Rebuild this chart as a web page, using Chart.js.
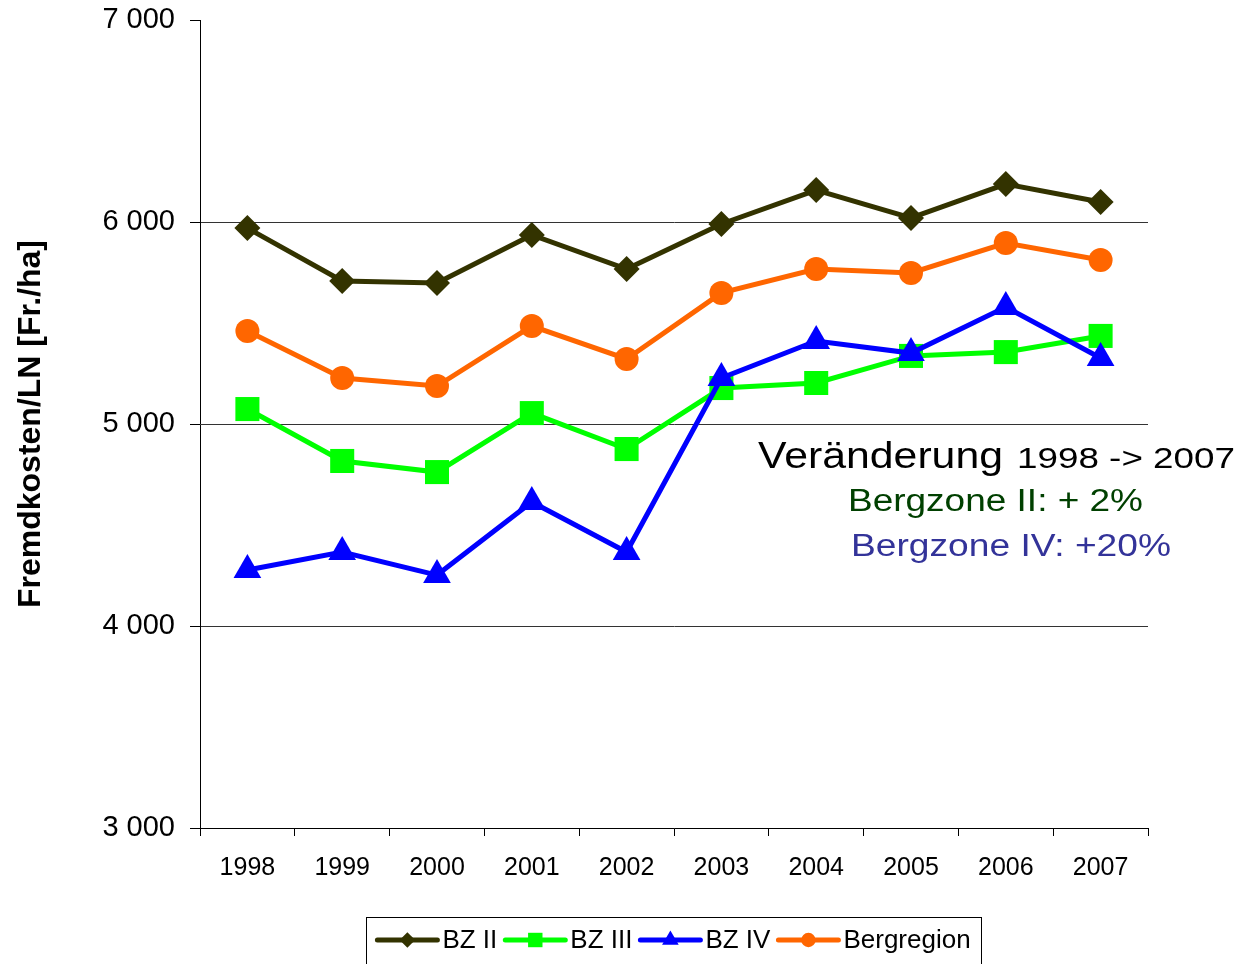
<!DOCTYPE html>
<html>
<head>
<meta charset="utf-8">
<title>Fremdkosten/LN</title>
<script src="https://cdn.jsdelivr.net/npm/chart.js@4/dist/chart.umd.min.js"></script>
<style>
  html, body { margin: 0; padding: 0; background: #fff; }
  #wrap { width: 1238px; height: 964px; position: relative; }
</style>
</head>
<body>
<div id="wrap"><canvas id="chart"></canvas></div>
<script>
const years = ['1998', '1999', '2000', '2001', '2002', '2003', '2004', '2005', '2006', '2007'];
const bzII = [5970, 5708, 5698, 5936, 5767, 5990, 6158, 6020, 6188, 6099];
const bzIII = [5074, 4817, 4762, 5054, 4876, 5178, 5203, 5337, 5356, 5436];
const bzIV = [4277, 4366, 4252, 4614, 4366, 5228, 5411, 5351, 5579, 5327];
const bergregion = [5460, 5228, 5188, 5485, 5322, 5649, 5767, 5748, 5896, 5812];
const seriesNames = ['BZ II', 'BZ III', 'BZ IV', 'Bergregion'];
const yMin = 3000, yMax = 7000, yStep = 1000;
const yTitle = 'Fremdkosten/LN [Fr./ha]';
const noteTexts = ['Veränderung', '1998 -> 2007', 'Bergzone II: + 2%', 'Bergzone IV: +20%'];

const FONT = '"Liberation Sans", Arial, Helvetica, sans-serif';

function fmt(v) {
  return String(v).replace(/\B(?=(\d{3})+(?!\d))/g, ' ');
}

// text box on the right, stretched a bit like the original
const notePlugin = {
  id: 'note',
  afterDatasetsDraw(chart) {
    const ctx = chart.ctx;
    const parts = [
      { t: noteTexts[0], size: 37, color: '#000000', x: 758, y: 468, w: 245 },
      { t: noteTexts[1], size: 30, color: '#000000', x: 1017, y: 468, w: 218 },
      { t: noteTexts[2], size: 31, color: '#004000', x: 848, y: 511, w: 295 },
      { t: noteTexts[3], size: 31, color: '#333399', x: 851, y: 556, w: 320 }
    ];
    ctx.save();
    ctx.textBaseline = 'alphabetic';
    ctx.textAlign = 'left';
    parts.forEach(p => {
      ctx.font = p.size + 'px ' + FONT;
      const mw = ctx.measureText(p.t).width;
      ctx.save();
      ctx.translate(p.x, p.y);
      ctx.scale(p.w / mw, 1);
      ctx.fillStyle = p.color;
      ctx.fillText(p.t, 0, 0);
      ctx.restore();
    });
    ctx.restore();
  }
};

// legend box under the axis, line + marker per series
const legendPlugin = {
  id: 'bottomLegend',
  afterDraw(chart) {
    const ctx = chart.ctx;
    const area = chart.chartArea;
    ctx.save();
    ctx.font = '26px ' + FONT;
    const lineLen = 60, gapText = 5, gapItem = 8, padX = 11;
    const items = chart.data.datasets.map(ds => ({ ds, w: ctx.measureText(ds.label).width }));
    const total = items.reduce((s, it) => s + lineLen + gapText + it.w, 0) + gapItem * (items.length - 1);
    let x = (area.left + area.right) / 2 - total / 2;
    const top = 917, cy = 940;
    ctx.strokeStyle = '#000';
    ctx.lineWidth = 1;
    ctx.strokeRect(Math.round(x - padX) + 0.5, top + 0.5, Math.round(total + 2 * padX), 80);
    items.forEach(it => {
      const ds = it.ds;
      ctx.strokeStyle = ds.borderColor;
      ctx.fillStyle = ds.borderColor;
      ctx.lineWidth = 5;
      ctx.lineCap = 'round';
      ctx.beginPath();
      ctx.moveTo(x, cy);
      ctx.lineTo(x + lineLen, cy);
      ctx.stroke();
      Chart.helpers.drawPoint(ctx, {
        pointStyle: ds.pointStyle,
        radius: ds.pointRadius * 0.6,
        rotation: 0,
        borderWidth: 0
      }, x + lineLen / 2, cy);
      ctx.fillStyle = '#000';
      ctx.textBaseline = 'middle';
      ctx.textAlign = 'left';
      ctx.fillText(ds.label, x + lineLen + gapText, cy + 1);
      x += lineLen + gapText + it.w + gapItem;
    });
    ctx.restore();
  }
};

function series(label, data, color, style, radius, order) {
  return {
    label: label,
    data: data,
    borderColor: color,
    backgroundColor: color,
    borderWidth: 5,
    pointStyle: style,
    pointRadius: radius,
    pointHoverRadius: radius,
    pointBackgroundColor: color,
    pointBorderWidth: 0,
    tension: 0,
    order: order
  };
}

new Chart(document.getElementById('chart'), {
  type: 'line',
  data: {
    labels: years,
    datasets: [
      series(seriesNames[0], bzII, '#333300', 'rectRot', 13, 4),
      series(seriesNames[1], bzIII, '#00ff00', 'rect', 17, 3),
      series(seriesNames[2], bzIV, '#0000ff', 'triangle', 16, 2),
      series(seriesNames[3], bergregion, '#ff6600', 'circle', 12, 1)
    ]
  },
  options: {
    responsive: true,
    maintainAspectRatio: false,
    animation: false,
    layout: { padding: { left: 0, right: 90, top: 20, bottom: 64 } },
    plugins: {
      legend: { display: false },
      tooltip: { enabled: false }
    },
    scales: {
      x: {
        offset: true,
        afterFit: s => { s.height = 72; },
        grid: {
          offset: true,
          drawOnChartArea: false,
          drawTicks: true,
          tickLength: 8,
          color: '#000',
          tickColor: '#000'
        },
        border: { color: '#000', width: 1 },
        ticks: {
          color: '#000',
          font: { family: FONT, size: 25 },
          padding: 17,
          maxRotation: 0
        }
      },
      y: {
        min: yMin,
        max: yMax,
        afterFit: s => { s.width = 200; s.paddingTop = 0; s.paddingBottom = 0; },
        grid: {
          color: c => (c.tick && c.tick.value === yMax) ? 'rgba(0,0,0,0)' : '#333',
          tickColor: '#000',
          tickLength: 10,
          lineWidth: 1
        },
        border: { color: '#000', width: 1 },
        ticks: {
          stepSize: yStep,
          color: '#000',
          padding: 15,
          font: { family: FONT, size: 29 },
          callback: v => fmt(v)
        },
        title: {
          display: true,
          text: yTitle,
          color: '#000',
          font: { family: FONT, size: 32, weight: 'bold' },
          padding: { top: 12, bottom: 0 }
        }
      }
    }
  },
  plugins: [notePlugin, legendPlugin]
});
</script>
</body>
</html>
